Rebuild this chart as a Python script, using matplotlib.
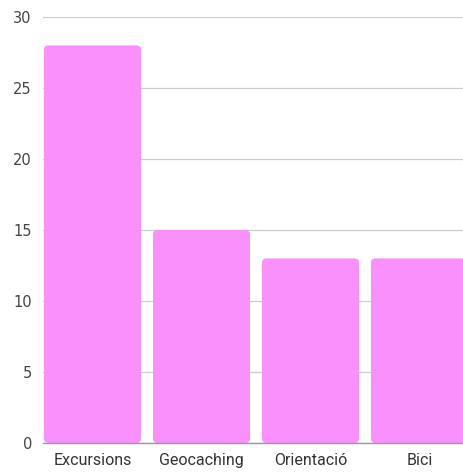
import matplotlib
matplotlib.use("Agg")
import matplotlib.pyplot as plt
from matplotlib.patches import FancyBboxPatch

categories = ["Excursions", "Geocaching", "Orientació", "Bici"]
values = [28, 15, 13, 13]
yticks = [0, 5, 10, 15, 20, 25, 30]

W, H = 463, 474
fig = plt.figure(figsize=(W / 100, H / 100), dpi=100)
# axes in pixel coords: slots 109 px wide, first slot centre at x=92.5
slot = 109
left_px = 43
x0 = -0.5 + (left_px - 38) / slot
right_px = 38 + slot * 4
bottom_px, top_px = 443, 17
ax = fig.add_axes([left_px / W, 1 - bottom_px / H,
                   (right_px - left_px) / W, (bottom_px - top_px) / H])
ax.set_xlim(x0, 3.5)
ax.set_ylim(0, 30)

bar_color = "#f990fb"
bars = ax.bar(range(len(categories)), values, width=0.89, color="none")
x_per_px = 1 / slot
y_per_px = 30 / (bottom_px - top_px)
for b in bars:
    p = FancyBboxPatch((b.get_x(), b.get_y()), b.get_width(), b.get_height(),
                       boxstyle="round,pad=0,rounding_size=%f" % (4.5 * x_per_px),
                       mutation_aspect=y_per_px / x_per_px,
                       facecolor=bar_color, edgecolor="none", zorder=3)
    ax.add_patch(p)

ax.set_yticks(yticks)
ax.set_yticklabels([str(t) for t in yticks], fontsize=10.5, color="#444444",
                   family="DejaVu Sans")
ax.yaxis.grid(True, color="#cccccc", linewidth=0.9, zorder=0)
ax.set_axisbelow(True)
ax.tick_params(axis="y", length=0, pad=8)
ax.tick_params(axis="x", length=0, pad=7)
ax.set_xticks(range(len(categories)))
ax.set_xticklabels(categories, fontsize=11.5, color="#333333",
                   family=["Roboto", "DejaVu Sans"])
for s in ["top", "right", "left"]:
    ax.spines[s].set_visible(False)
ax.spines["bottom"].set_color("#999999")
ax.spines["bottom"].set_linewidth(1.0)
ax.spines["bottom"].set_zorder(4)

fig.savefig("out.png", dpi=100)
